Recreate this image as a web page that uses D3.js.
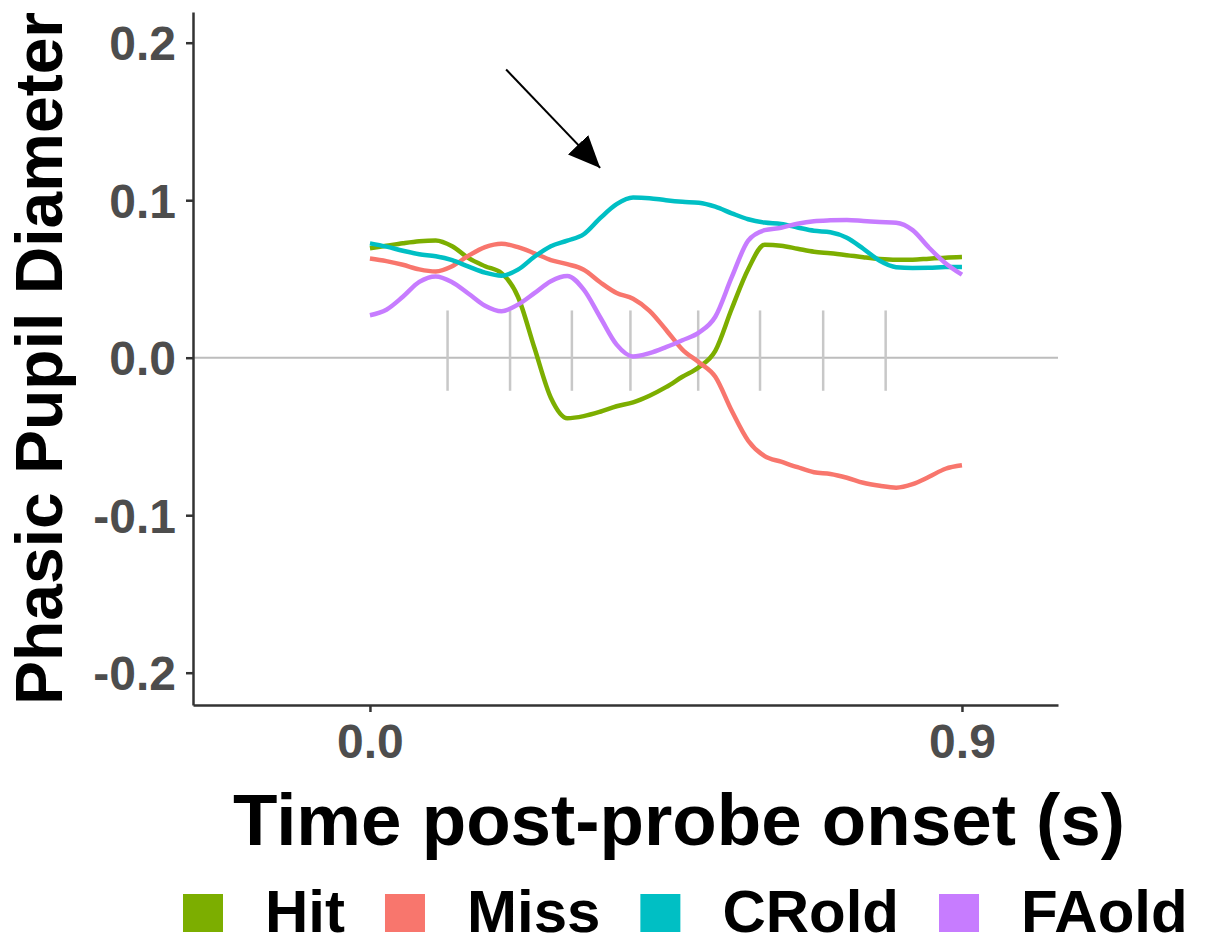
<!DOCTYPE html>
<html>
<head>
<meta charset="utf-8">
<script src="https://cdn.jsdelivr.net/npm/d3@7"></script>
<style>
  body { margin: 0; background: #fff; }
  text { font-family: "Liberation Sans", Arial, sans-serif; font-weight: bold; }
</style>
</head>
<body>
<svg width="1205" height="946"></svg>
<script>
// time grid (s) shared by all conditions
const time = d3.range(0, 37).map(k => +(k * 0.025).toFixed(3));

const hit = [0.0695, 0.0711, 0.0727, 0.0740, 0.0745, 0.0708, 0.0632, 0.0581, 0.0537, 0.0387,
  0.0063, -0.0254, -0.0384, -0.0371, -0.0343, -0.0308, -0.0283, -0.0241, -0.0187, -0.0121,
  -0.0060, 0.0044, 0.0311, 0.0562, 0.0717, 0.0711, 0.0692, 0.0673, 0.0663, 0.0651,
  0.0638, 0.0627, 0.0622, 0.0622, 0.0629, 0.0635, 0.0639];

const miss = [0.0630, 0.0613, 0.0590, 0.0561, 0.0548, 0.0581, 0.0648, 0.0702, 0.0724, 0.0702,
  0.0663, 0.0620, 0.0594, 0.0559, 0.0479, 0.0411, 0.0375, 0.0298, 0.0178, 0.0051,
  -0.0029, -0.0121, -0.0337, -0.0527, -0.0625, -0.0660, -0.0695, -0.0727, -0.0738, -0.0762,
  -0.0794, -0.0813, -0.0825, -0.0803, -0.0756, -0.0705, -0.0683];

const crOld = [0.0726, 0.0705, 0.0679, 0.0657, 0.0644, 0.0619, 0.0578, 0.0540, 0.0521, 0.0559,
  0.0641, 0.0708, 0.0743, 0.0784, 0.0886, 0.0975, 0.1017, 0.1013, 0.1000, 0.0990,
  0.0984, 0.0959, 0.0917, 0.0879, 0.0858, 0.0849, 0.0827, 0.0806, 0.0797, 0.0762,
  0.0692, 0.0616, 0.0575, 0.0570, 0.0571, 0.0576, 0.0576];

const faOld = [0.0270, 0.0305, 0.0387, 0.0481, 0.0516, 0.0479, 0.0406, 0.0330, 0.0295, 0.0337,
  0.0410, 0.0486, 0.0519, 0.0432, 0.0257, 0.0083, 0.0008, 0.0029, 0.0067, 0.0111,
  0.0159, 0.0260, 0.0511, 0.0743, 0.0810, 0.0825, 0.0851, 0.0867, 0.0872, 0.0874,
  0.0868, 0.0862, 0.0857, 0.0810, 0.0698, 0.0600, 0.0527];

const conditions = ["Hit", "Miss", "CRold", "FAold"];
const colors = ["#7CAE00", "#F8766D", "#00BFC4", "#C77CFF"];
const seriesValues = [hit, miss, crOld, faOld];

// grey marks along the zero line
const markTimes = [0.118, 0.213, 0.307, 0.396, 0.499, 0.593, 0.689, 0.784];
const markRange = [-0.021, 0.03];

const xTicks = [0, 0.9];
const yTicks = [-0.2, -0.1, 0, 0.1, 0.2];

// annotation arrow (data coords)
const arrowFrom = [0.207, 0.183];
const arrowTo = [0.35, 0.1205];

const svg = d3.select("svg");
const pLeft = 193, pRight = 1058, pTop = 12, pBottom = 705;

const x = d3.scaleLinear().domain([-0.269, 1.046]).range([pLeft, pRight]);
const y = d3.scaleLinear().domain([-0.2205, 0.2195]).range([pBottom, pTop]);
const fmt = d => d3.format(".1f")(d).replace("\u2212", "-");

// zero line
svg.append("line")
  .attr("x1", pLeft).attr("x2", pRight)
  .attr("y1", y(0)).attr("y2", y(0))
  .attr("stroke", "#bdbdbd").attr("stroke-width", 2);

// vertical marks
svg.append("g").selectAll("line")
  .data(markTimes)
  .join("line")
  .attr("x1", d => x(d)).attr("x2", d => x(d))
  .attr("y1", y(markRange[1])).attr("y2", y(markRange[0]))
  .attr("stroke", "#c8c8c8").attr("stroke-width", 2.5);

// lines
const line = d3.line()
  .x((d, i) => x(time[i]))
  .y(d => y(d))
  .curve(d3.curveMonotoneX);

svg.append("g").selectAll("path")
  .data(seriesValues)
  .join("path")
  .attr("d", line)
  .attr("fill", "none")
  .attr("stroke", (d, i) => colors[i])
  .attr("stroke-width", 4.5)
  .attr("stroke-linejoin", "round");

// axes
const yAxis = svg.append("g")
  .attr("transform", `translate(${pLeft},0)`)
  .call(d3.axisLeft(y).tickValues(yTicks).tickFormat(fmt).tickSize(7).tickSizeOuter(0).tickPadding(10));
const xAxis = svg.append("g")
  .attr("transform", `translate(0,${pBottom})`)
  .call(d3.axisBottom(x).tickValues(xTicks).tickFormat(fmt).tickSize(7).tickSizeOuter(0).tickPadding(12));

[yAxis, xAxis].forEach(g => {
  g.select(".domain").attr("stroke", "#333").attr("stroke-width", 2.5);
  g.selectAll(".tick line").attr("stroke", "#333").attr("stroke-width", 2.5);
  g.selectAll(".tick text")
    .attr("fill", "#4d4d4d")
    .style("font-size", "48px")
    .style("font-family", "'Liberation Sans', Arial, sans-serif")
    .style("font-weight", "bold");
});
yAxis.selectAll(".tick text").attr("dy", "0.36em");

// axis titles
svg.append("text")
  .attr("x", 233).attr("y", 845)
  .attr("textLength", 892).attr("lengthAdjust", "spacingAndGlyphs")
  .style("font-size", "72px")
  .attr("fill", "#000")
  .text("Time post-probe onset (s)");

svg.append("text")
  .attr("transform", "translate(62,705) rotate(-90)")
  .attr("textLength", 693).attr("lengthAdjust", "spacingAndGlyphs")
  .style("font-size", "67px")
  .attr("fill", "#000")
  .text("Phasic Pupil Diameter");

// arrow
svg.append("defs").append("marker")
  .attr("id", "head")
  .attr("markerUnits", "userSpaceOnUse")
  .attr("viewBox", "0 0 32 28")
  .attr("refX", 32).attr("refY", 14)
  .attr("markerWidth", 32).attr("markerHeight", 28)
  .attr("orient", "auto")
  .append("path")
  .attr("d", "M0,0 L32,14 L0,28 Z")
  .attr("fill", "#000");

svg.append("line")
  .attr("x1", x(arrowFrom[0])).attr("y1", y(arrowFrom[1]))
  .attr("x2", x(arrowTo[0])).attr("y2", y(arrowTo[1]))
  .attr("stroke", "#000").attr("stroke-width", 2)
  .attr("marker-end", "url(#head)");

// legend
const legend = svg.append("g").attr("transform", "translate(183,894)");
let lx = 0;
conditions.forEach((c, i) => {
  const g = legend.append("g").attr("transform", `translate(${lx},0)`);
  g.append("rect").attr("width", 40).attr("height", 38).attr("fill", colors[i]);
  const t = g.append("text")
    .attr("x", 82).attr("y", 38)
    .style("font-size", "60px")
    .attr("fill", "#000")
    .text(c);
  lx += 82 + t.node().getComputedTextLength() + 40;
});
</script>
</body>
</html>
